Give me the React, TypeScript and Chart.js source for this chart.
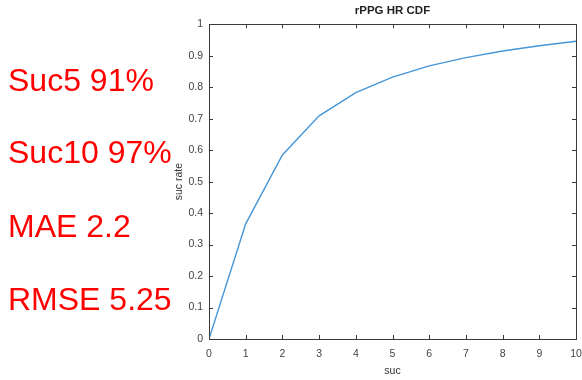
import React, { useEffect, useRef } from "react";
import { Chart, registerables } from "chart.js";

Chart.register(...registerables);

const xValues = [0, 1, 2, 3, 4, 5, 6, 7, 8, 9, 10];
const sucRate = [0.0, 0.366, 0.585, 0.709, 0.783, 0.832, 0.868, 0.894, 0.915, 0.932, 0.946];
const statLines = ["Suc5 91%", "Suc10 97%", "MAE 2.2", "RMSE 5.25"];
const chartTitle = "rPPG HR CDF";
const xTitle = "suc";
const yTitle = "suc rate";

const FONT = "'Liberation Sans', Arial, Helvetica, sans-serif";
const AXIS_COLOR = "#3a3a3a";

const framePlugin = {
  id: "matlabFrame",
  afterDraw(chart: any) {
    const { ctx, chartArea, scales } = chart;
    const { left, right, top, bottom } = chartArea;
    ctx.save();
    ctx.strokeStyle = AXIS_COLOR;
    ctx.lineWidth = 1;
    ctx.strokeRect(Math.round(left) + 0.5, Math.round(top) + 0.5, Math.round(right - left), Math.round(bottom - top));
    const tl = 4;
    ctx.beginPath();
    scales.x.ticks.forEach((t: any) => {
      const px = Math.round(scales.x.getPixelForValue(t.value)) + 0.5;
      ctx.moveTo(px, bottom);
      ctx.lineTo(px, bottom - tl);
      ctx.moveTo(px, top);
      ctx.lineTo(px, top + tl);
    });
    scales.y.ticks.forEach((t: any) => {
      const py = Math.round(scales.y.getPixelForValue(t.value)) + 0.5;
      ctx.moveTo(left, py);
      ctx.lineTo(left + tl, py);
      ctx.moveTo(right, py);
      ctx.lineTo(right - tl, py);
    });
    ctx.stroke();
    ctx.restore();
  },
};

export default function App() {
  const ref = useRef<HTMLCanvasElement>(null);

  useEffect(() => {
    if (!ref.current) return;
    const chart = new Chart(ref.current, {
      type: "line",
      data: {
        datasets: [
          {
            data: xValues.map((x, i) => ({ x, y: sucRate[i] })),
            borderColor: "#4596d8",
            borderWidth: 1.4,
            pointRadius: 0,
            tension: 0,
            fill: false,
          },
        ],
      },
      plugins: [framePlugin],
      options: {
        animation: false,
        responsive: false,
        maintainAspectRatio: false,
        layout: { padding: { left: 169, right: 6, top: 0, bottom: 0 } },
        plugins: {
          legend: { display: false },
          tooltip: { enabled: false },
          title: {
            display: true,
            text: chartTitle,
            fullSize: false,
            color: "#222",
            font: { family: FONT, size: 11.5, weight: "bold", lineHeight: 1.2 },
            padding: { top: 4, bottom: 6.5 },
          },
        },
        scales: {
          x: {
            type: "linear",
            min: 0,
            max: 10,
            grid: { display: false, drawTicks: false },
            border: { display: false },
            ticks: {
              stepSize: 1,
              padding: 9,
              color: "#444",
              font: { family: FONT, size: 10.5 },
              maxRotation: 0,
            },
            title: {
              display: true,
              text: xTitle,
              color: "#333",
              font: { family: FONT, size: 10.5, lineHeight: 1.2 },
              padding: { top: 0, bottom: 3 },
            },
            afterFit(scale: any) {
              scale.height = 41;
              scale.paddingLeft = 0;
              scale.paddingRight = 0;
            },
          },
          y: {
            type: "linear",
            min: 0,
            max: 1,
            grid: { display: false, drawTicks: false },
            border: { display: false },
            ticks: {
              stepSize: 0.1,
              padding: 6,
              color: "#444",
              font: { family: FONT, size: 10.5 },
              callback: (v: any) => String(Number(Number(v).toFixed(1))),
            },
            title: {
              display: true,
              text: yTitle,
              color: "#333",
              font: { family: FONT, size: 10.5, lineHeight: 1.2 },
              padding: { top: 4, bottom: 0 },
            },
            afterFit(scale: any) {
              scale.width = 40;
              scale.paddingTop = 0;
              scale.paddingBottom = 0;
            },
          },
        },
      },
    });
    return () => chart.destroy();
  }, []);

  const tops = [63.6, 136.2, 209.6, 282.9];

  return (
    <div style={{ position: "fixed", left: 0, top: 0, width: 582, height: 380, background: "#fff" }}>
      <canvas ref={ref} width={582} height={380} style={{ position: "absolute", left: 0, top: 0, width: 582, height: 380 }} />
      {statLines.map((s, i) => (
        <div
          key={s}
          style={{
            position: "absolute",
            left: 8,
            top: tops[i],
            fontFamily: FONT,
            fontSize: 32,
            lineHeight: "32px",
            color: "#ff0000",
            whiteSpace: "nowrap",
          }}
        >
          {s}
        </div>
      ))}
    </div>
  );
}
